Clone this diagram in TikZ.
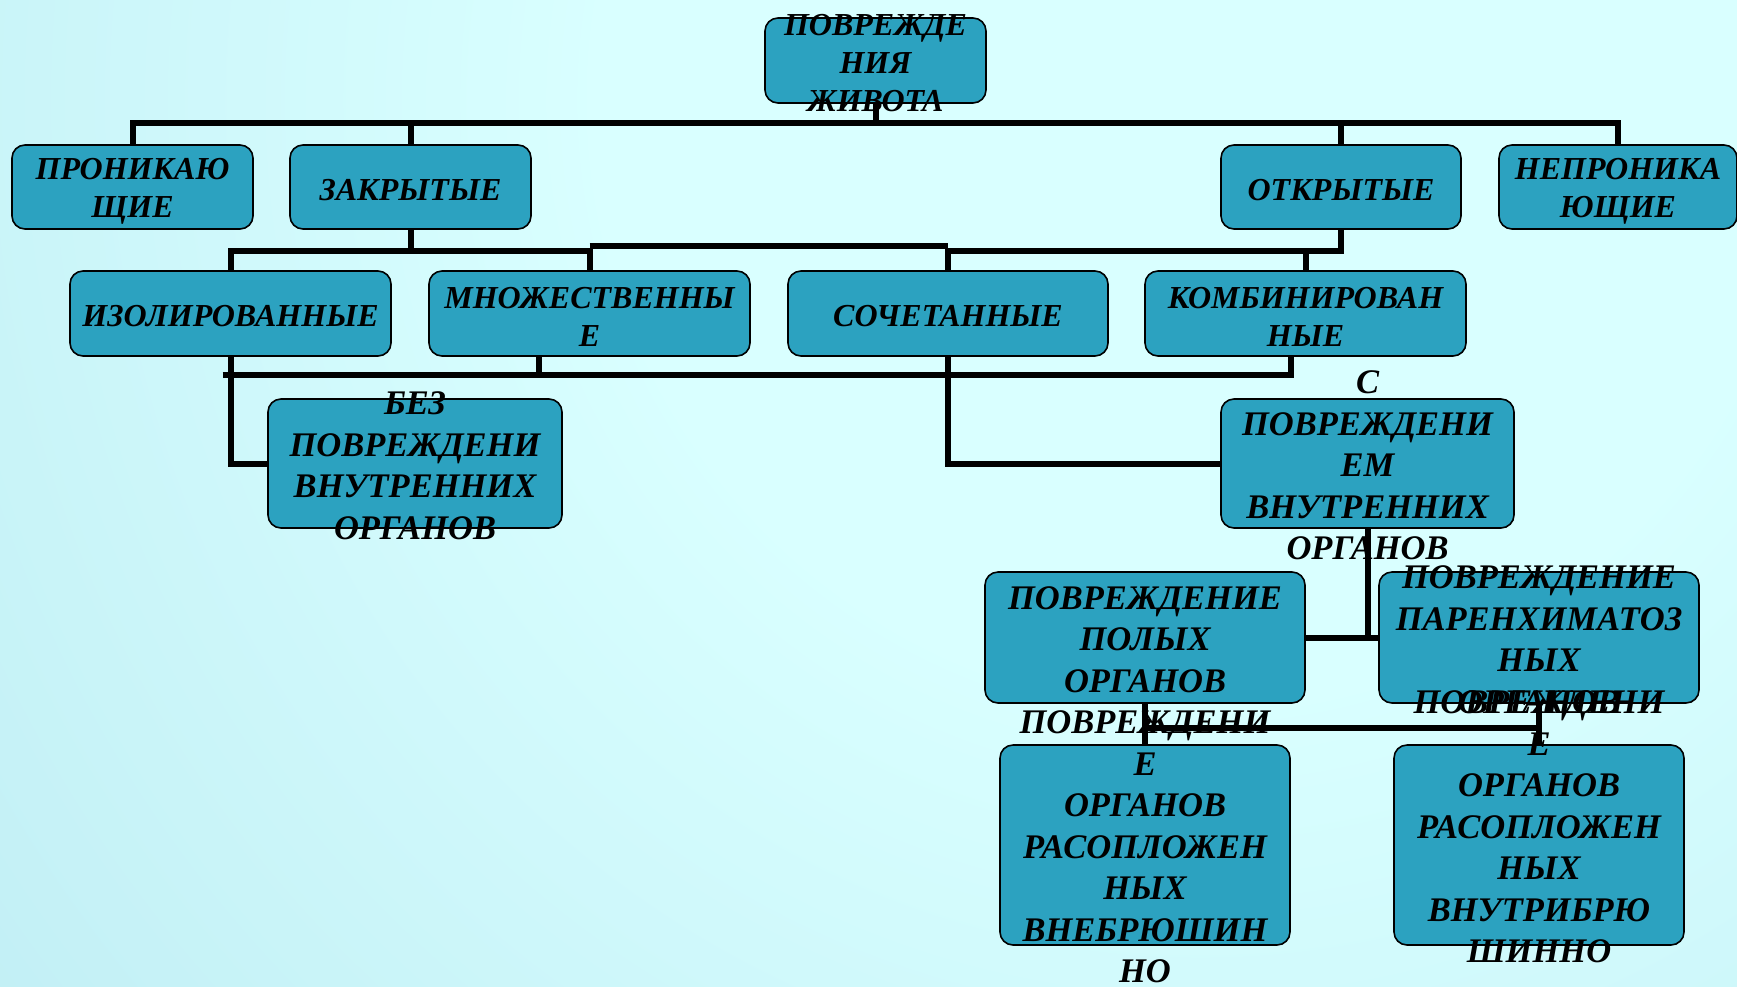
\documentclass[tikz,border=0pt]{standalone}
\usepackage{fontspec}
\setmainfont{Liberation Serif}
\definecolor{boxc}{RGB}{44,162,192}
\definecolor{bgin}{RGB}{217,255,255}
\definecolor{bgout}{RGB}{166,220,233}
\pgfdeclareradialshading{bgshade}{\pgfpoint{0bp}{0bp}}{color(0bp)=(bgin); color(9bp)=(bgin); color(40bp)=(bgout); color(50bp)=(bgout)}
\begin{document}
\begin{tikzpicture}[x=1pt,y=-1pt,
  box/.style={draw=black, line width=1.6pt, fill=boxc, rounded corners=13pt, inner sep=0pt},
  lbl/.style={font=\bfseries\itshape\fontsize{32}{38}\selectfont, align=center, inner sep=0pt, text=black, yshift=-3pt},
  lblb/.style={font=\bfseries\itshape\fontsize{34.5}{41.5}\selectfont, align=center, inner sep=0pt, text=black, yshift=-2pt},
  conn/.style={draw=black, line width=6pt}]
\useasboundingbox (0,0) rectangle (1737,986);
\clip (0,0) rectangle (1737,986);
\shade[shading=bgshade] (1200,100) circle [radius=1650pt];

% boxes
\node[box, minimum width=221pt, minimum height=85pt] (top) at (875.5,60.5) {};
\node[box, minimum width=241pt, minimum height=84pt] (pron) at (132.5,187) {};
\node[box, minimum width=241pt, minimum height=84pt] (zakr) at (410.5,187) {};
\node[box, minimum width=240pt, minimum height=84pt] (otkr) at (1341,187) {};
\node[box, minimum width=238pt, minimum height=84pt] (nepr) at (1618,187) {};
\node[box, minimum width=321pt, minimum height=85pt] (izol) at (230.5,313.5) {};
\node[box, minimum width=321pt, minimum height=85pt] (mnozh) at (589.5,313.5) {};
\node[box, minimum width=320pt, minimum height=85pt] (soch) at (948,313.5) {};
\node[box, minimum width=321pt, minimum height=85pt] (komb) at (1305.5,313.5) {};
\node[box, minimum width=294pt, minimum height=129pt] (bez) at (415,463.5) {};
\node[box, minimum width=293pt, minimum height=129pt] (spov) at (1367.5,463.5) {};
\node[box, minimum width=320pt, minimum height=131pt] (poly) at (1145,637.5) {};
\node[box, minimum width=320pt, minimum height=131pt] (paren) at (1539,637.5) {};
\node[box, minimum width=290pt, minimum height=200pt] (vnebr) at (1145,845) {};
\node[box, minimum width=290pt, minimum height=200pt] (vnutr) at (1539,845) {};

% connectors
\coordinate (h1) at (0,123);
\coordinate (h2) at (0,251);
\coordinate (h2b) at (0,246);
\coordinate (h3) at (0,375);
\coordinate (h5) at (0,728);
\draw[conn] (top.south) -- (top.south |- h1);
\draw[conn] (pron.north) |- (nepr.north |- h1) -- (nepr.north);
\draw[conn] (zakr.north) -- (zakr.north |- h1);
\draw[conn] (otkr.north) -- (otkr.north |- h1);

\draw[conn] (zakr.south) -- (zakr.south |- h2);
\draw[conn] (izol.north) |- (mnozh.north |- h2) -- (mnozh.north);
\draw[conn] (mnozh.north |- h2b) -- (soch.north |- h2b);
\draw[conn] (soch.north) |- (otkr.south |- h2) -- (otkr.south);
\draw[conn] (komb.north) -- (komb.north |- h2);

\coordinate (m3) at ([xshift=-51pt]mnozh.south);
\coordinate (k3) at ([xshift=-15pt]komb.south);
\coordinate (i3) at ([xshift=-8pt]izol.south);
\draw[conn] (izol.south) |- (bez.west);
\draw[conn] (soch.south) |- (spov.west);
\draw[conn] (i3 |- h3) -| (k3);
\draw[conn] (m3) -- (m3 |- h3);

\draw[conn] (poly.east) -- (paren.west);
\draw[conn] (spov.south) -- (spov.south |- poly.east);

\draw[conn] (poly.south) -- (vnebr.north);
\draw[conn] (paren.south) -- (vnutr.north);
\draw[conn] (vnebr.north |- h5) -- (vnutr.north |- h5);

% labels
\node[lbl] at (top) {ПОВРЕЖДЕ\\НИЯ\\ЖИВОТА};
\node[lbl, yshift=-1pt] at (pron) {ПРОНИКАЮ\\ЩИЕ};
\node[lbl] at (zakr) {ЗАКРЫТЫЕ};
\node[lbl] at (otkr) {ОТКРЫТЫЕ};
\node[lbl, yshift=-1pt] at (nepr) {НЕПРОНИКА\\ЮЩИЕ};
\node[lbl] at (izol) {ИЗОЛИРОВАННЫЕ};
\node[lbl] at (mnozh) {МНОЖЕСТВЕННЫ\\Е};
\node[lbl] at (soch) {СОЧЕТАННЫЕ};
\node[lbl] at (komb) {КОМБИНИРОВАН\\НЫЕ};
\node[lblb] at (bez) {БЕЗ\\ПОВРЕЖДЕНИ\\ВНУТРЕННИХ\\ОРГАНОВ};
\node[lblb] at (spov) {С\\ПОВРЕЖДЕНИ\\ЕМ\\ВНУТРЕННИХ\\ОРГАНОВ};
\node[lblb] at (poly) {ПОВРЕЖДЕНИЕ\\ПОЛЫХ\\ОРГАНОВ};
\node[lblb] at (paren) {ПОВРЕЖДЕНИЕ\\ПАРЕНХИМАТОЗ\\НЫХ\\ОРГАНОВ};
\node[lblb] at (vnebr) {ПОВРЕЖДЕНИ\\Е\\ОРГАНОВ\\РАСОПЛОЖЕН\\НЫХ\\ВНЕБРЮШИН\\НО};
\node[lblb, yshift=20pt] at (vnutr) {ПОВРЕЖДЕНИ\\Е\\ОРГАНОВ\\РАСОПЛОЖЕН\\НЫХ\\ВНУТРИБРЮ\\ШИННО};
\end{tikzpicture}
\end{document}
